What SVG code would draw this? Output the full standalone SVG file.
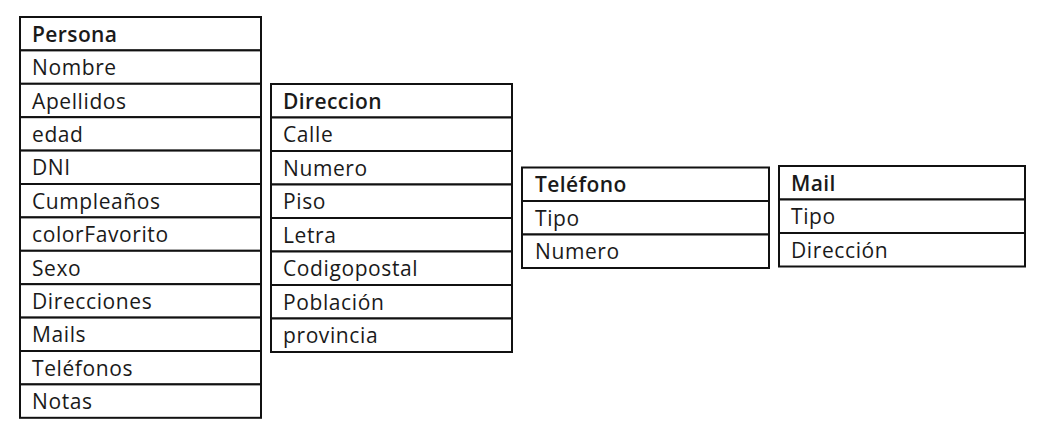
<svg xmlns="http://www.w3.org/2000/svg" width="1045" height="439" viewBox="0 0 1045 439">
<style>
rect{fill:#fff;stroke:#111;stroke-width:2}
text{font-family:"Open Sans","DejaVu Sans",sans-serif;font-size:21px;fill:#1a1a1a;letter-spacing:0.6px}
.h{font-weight:600;letter-spacing:0.4px}
</style>
<rect x="0" y="0" width="1045" height="439" style="stroke:none"/>
<g id="persona">
<rect x="20" y="17" width="241" height="33.4"/>
<rect x="20" y="50.4" width="241" height="33.4"/>
<rect x="20" y="83.8" width="241" height="33.4"/>
<rect x="20" y="117.2" width="241" height="33.4"/>
<rect x="20" y="150.6" width="241" height="33.4"/>
<rect x="20" y="184" width="241" height="33.4"/>
<rect x="20" y="217.4" width="241" height="33.4"/>
<rect x="20" y="250.8" width="241" height="33.4"/>
<rect x="20" y="284.2" width="241" height="33.4"/>
<rect x="20" y="317.6" width="241" height="33.4"/>
<rect x="20" y="351" width="241" height="33.4"/>
<rect x="20" y="384.4" width="241" height="33.4"/>
<text x="32" y="41.7" class="h">Persona</text>
<text x="32" y="75.1">Nombre</text>
<text x="32" y="108.5">Apellidos</text>
<text x="32" y="141.9">edad</text>
<text x="32" y="175.3">DNI</text>
<text x="32" y="208.7">Cumpleaños</text>
<text x="32" y="242.1">colorFavorito</text>
<text x="32" y="275.5">Sexo</text>
<text x="32" y="308.9">Direcciones</text>
<text x="32" y="342.3">Mails</text>
<text x="32" y="375.7">Teléfonos</text>
<text x="32" y="409.1">Notas</text>
</g>
<g id="direccion">
<rect x="271" y="84" width="241" height="33.5"/>
<rect x="271" y="117.5" width="241" height="33.5"/>
<rect x="271" y="151" width="241" height="33.5"/>
<rect x="271" y="184.5" width="241" height="33.5"/>
<rect x="271" y="218" width="241" height="33.5"/>
<rect x="271" y="251.5" width="241" height="33.5"/>
<rect x="271" y="285" width="241" height="33.5"/>
<rect x="271" y="318.5" width="241" height="33.5"/>
<text x="283" y="108.7" class="h">Direccion</text>
<text x="283" y="142.2">Calle</text>
<text x="283" y="175.7">Numero</text>
<text x="283" y="209.2">Piso</text>
<text x="283" y="242.7">Letra</text>
<text x="283" y="276.2">Codigopostal</text>
<text x="283" y="309.7">Población</text>
<text x="283" y="343.2">provincia</text>
</g>
<g id="telefono">
<rect x="522" y="167.5" width="247" height="33.5"/>
<rect x="522" y="201" width="247" height="33.5"/>
<rect x="522" y="234.5" width="247" height="33.5"/>
<text x="535" y="192.2" class="h">Teléfono</text>
<text x="535" y="225.7">Tipo</text>
<text x="535" y="259.2">Numero</text>
</g>
<g id="mail">
<rect x="779" y="166" width="246" height="33.5"/>
<rect x="779" y="199.5" width="246" height="33.5"/>
<rect x="779" y="233" width="246" height="33.5"/>
<text x="791" y="190.7" class="h">Mail</text>
<text x="791" y="224.2">Tipo</text>
<text x="791" y="257.7">Dirección</text>
</g>
<g id="connectors"></g>
</svg>
